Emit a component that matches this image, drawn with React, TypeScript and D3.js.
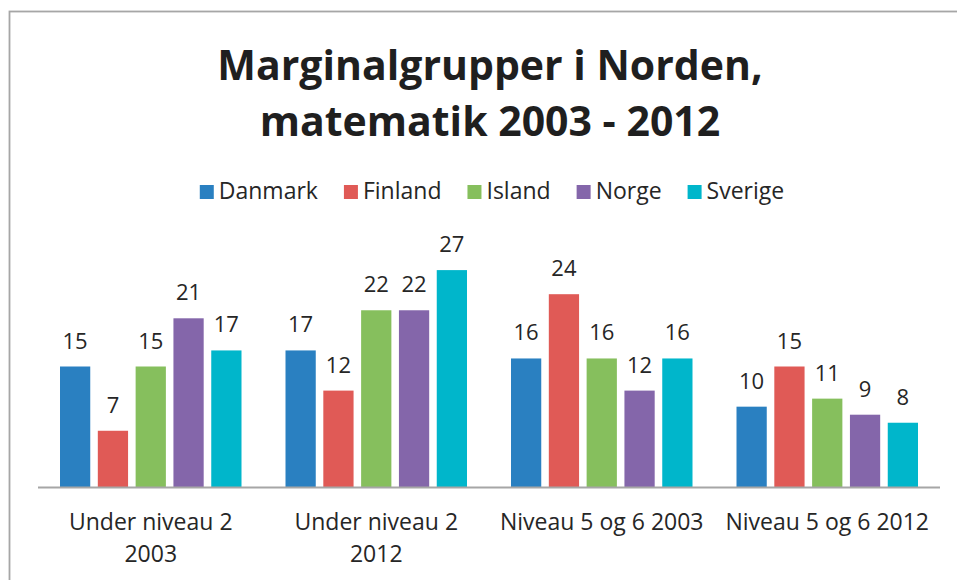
import React, { useRef, useEffect } from "react"
import * as d3 from "d3"

const categories = ["Under niveau 2|2003", "Under niveau 2|2012", "Niveau 5 og 6 2003", "Niveau 5 og 6 2012"]
const seriesNames = ["Danmark", "Finland", "Island", "Norge", "Sverige"]
const seriesColors = ["#2a80c1", "#e05a56", "#86bf5d", "#8466aa", "#00b6cb"]
const danmark = [15, 17, 16, 10]
const finland = [7, 12, 24, 15]
const island = [15, 22, 16, 11]
const norge = [21, 22, 12, 9]
const sverige = [17, 27, 16, 8]
const titleLines = ["Marginalgrupper i Norden,", "matematik 2003 - 2012"]

const FONT = "Open Sans, 'Noto Sans', sans-serif"

export default function App() {
  const svgRef = useRef(null)

  useEffect(() => {
    const width = 957, height = 580
    const svg = d3.select(svgRef.current)
    svg.selectAll("*").remove()

    const values = [danmark, finland, island, norge, sverige]

    // chart frame
    svg.append("rect")
      .attr("x", 9.5).attr("y", 11.5)
      .attr("width", width).attr("height", height)
      .attr("fill", "#fff")
      .attr("stroke", "#a6a6a6").attr("stroke-width", 1.8)

    // title
    svg.append("g").selectAll("text")
      .data(titleLines)
      .enter().append("text")
      .attr("x", 490)
      .attr("y", (d, i) => 80 + i * 56)
      .attr("text-anchor", "middle")
      .attr("font-family", FONT)
      .attr("font-weight", "bold")
      .attr("font-size", 41)
      .attr("fill", "#1f1f1f")
      .text(d => d)

    const x0 = d3.scaleBand().domain(categories).range([38, 940])
    const x1 = d3.scaleBand().domain(seriesNames).range([22, x0.bandwidth() - 22]).paddingInner(0.2)
    const y = d3.scaleLinear().domain([0, 30]).range([487, 246])

    const groups = svg.append("g").selectAll("g")
      .data(categories)
      .enter().append("g")
      .attr("transform", d => "translate(" + x0(d) + ",0)")

    groups.selectAll("rect")
      .data((c, ci) => seriesNames.map((s, si) => ({ s, si, v: values[si][ci] })))
      .enter().append("rect")
      .attr("x", d => x1(d.s))
      .attr("width", x1.bandwidth())
      .attr("y", d => y(d.v))
      .attr("height", d => y(0) - y(d.v))
      .attr("fill", d => seriesColors[d.si])

    groups.selectAll("text.val")
      .data((c, ci) => seriesNames.map((s, si) => ({ s, si, v: values[si][ci] })))
      .enter().append("text")
      .attr("class", "val")
      .attr("x", d => x1(d.s) + x1.bandwidth() / 2)
      .attr("y", d => y(d.v) - 18)
      .attr("text-anchor", "middle")
      .attr("font-family", FONT)
      .attr("font-size", 22)
      .attr("fill", "#262626")
      .text(d => d.v)

    // baseline
    svg.append("line")
      .attr("x1", 38).attr("x2", 940)
      .attr("y1", y(0) + 0.5).attr("y2", y(0) + 0.5)
      .attr("stroke", "#a6a6a6").attr("stroke-width", 2)

    // category labels
    const labels = svg.append("g").selectAll("text")
      .data(categories)
      .enter().append("text")
      .attr("x", d => x0(d) + x0.bandwidth() / 2)
      .attr("y", 530)
      .attr("text-anchor", "middle")
      .attr("font-family", FONT)
      .attr("font-size", 23)
      .attr("fill", "#262626")
    labels.selectAll("tspan")
      .data(d => d.split("|"))
      .enter().append("tspan")
      .attr("x", function () { return d3.select(this.parentNode).attr("x") })
      .attr("dy", (d, i) => i === 0 ? 0 : 32)
      .text(d => d)

    // legend
    const legend = svg.append("g")
    const items = legend.selectAll("g")
      .data(seriesNames)
      .enter().append("g")
    items.append("rect")
      .attr("y", 185).attr("width", 14).attr("height", 14)
      .attr("fill", (d, i) => seriesColors[i])
    items.append("text")
      .attr("x", 19).attr("y", 199)
      .attr("font-family", FONT)
      .attr("font-size", 23)
      .attr("fill", "#262626")
      .text(d => d)
    let cx = 0
    items.each(function () {
      const t = d3.select(this).select("text").node()
      d3.select(this).attr("transform", "translate(" + cx + ",0)")
      cx += 19 + t.getComputedTextLength() + 26
    })
    const total = cx - 26
    legend.attr("transform", "translate(" + (492 - total / 2) + ",0)")
  }, [])

  return (
    <svg ref={svgRef} width={957} height={580}
      style={{ position: "absolute", left: 0, top: 0, background: "#fff" }}></svg>
  )
}
